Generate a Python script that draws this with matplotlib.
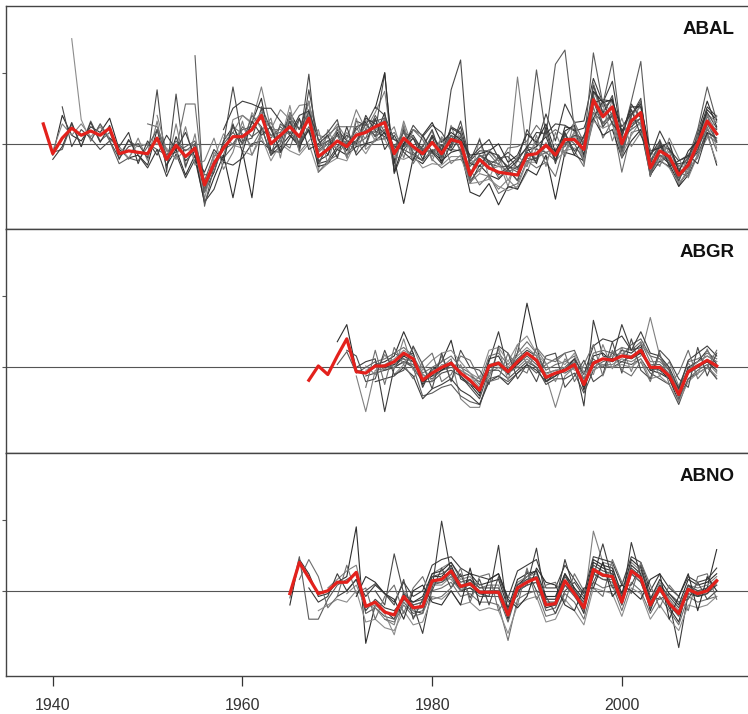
import matplotlib
matplotlib.use("Agg")
import matplotlib.pyplot as plt
import numpy as np

n = np.nan

# ---------- ABAL : 1939-2010 ----------
years_abal = list(range(1939, 2011))
mean_abal = [
    1.14, 0.93, 1.04, 1.11, 1.06, 1.09, 1.06, 1.11, 0.93, 0.95,
    0.94, 0.93, 1.04, 0.89, 0.99, 0.91, 0.97, 0.71, 0.86, 0.97,
    1.05, 1.05, 1.10, 1.20, 1.00, 1.06, 1.12, 1.05, 1.18, 0.91,
    0.96, 1.02, 0.98, 1.06, 1.08, 1.12, 1.15, 0.93, 1.04, 0.98,
    0.93, 1.01, 0.93, 1.03, 1.01, 0.78, 0.89, 0.83, 0.80, 0.79,
    0.78, 0.92, 0.93, 0.99, 0.92, 1.03, 1.03, 0.96, 1.31, 1.19,
    1.26, 1.00, 1.16, 1.22, 0.83, 0.95, 0.91, 0.78, 0.85, 1.00,
    1.16, 1.07]
abal_1 = [
    n, 0.92, 1.20, 1.06, 1.02, 1.12, 1.08, 1.18, 0.96, 0.90,
    0.92, 0.85, 1.10, 0.84, 1.05, 0.88, 0.95, 0.66, 0.80, 1.02,
    1.12, 1.00, 1.15, 1.32, 0.95, 1.00, 1.22, 1.10, 1.30, 0.88,
    0.92, 1.08, 0.95, 1.12, 1.15, 1.05, 1.22, 0.86, 1.10, 0.92,
    0.88, 1.05, 0.86, 1.12, 1.08, 0.72, 0.85, 0.78, 0.75, 0.82,
    0.74, 0.95, 0.98, 1.05, 0.88, 1.12, 1.10, 0.90, 1.42, 1.22,
    1.32, 0.95, 1.20, 1.30, 0.78, 0.92, 0.86, 0.72, 0.80, 1.08,
    1.30, 1.12]
abal_2 = [
    n, 0.94, 0.96, 1.14, 0.98, 1.16, 1.02, 1.08, 0.92, 1.02,
    0.98, 1.00, 0.96, 0.92, 0.94, 0.98, 1.02, 0.74, 0.92, 0.90,
    0.98, 1.12, 1.05, 1.10, 1.04, 1.12, 1.06, 1.00, 1.10, 0.95,
    1.02, 0.96, 1.02, 1.00, 1.04, 1.20, 1.08, 0.98, 0.98, 1.04,
    0.96, 0.94, 0.98, 0.96, 0.95, 0.84, 0.92, 0.88, 0.86, 0.80,
    0.84, 0.88, 0.90, 0.94, 0.96, 0.98, 1.08, 1.00, 1.22, 1.15,
    1.20, 1.04, 1.10, 1.15, 0.88, 0.98, 0.96, 0.84, 0.90, 0.98,
    1.10, 1.02]
abal_3 = [
    n,
    0.95, 1.14, 1.06, 1.14, 1.05, 1.12, 1.03, 0.98, 0.89, 1.04,
    0.88, 1.16, 0.83, 1.14, 0.83, 1.07, 0.66, 0.94, 0.87, 1.17,
    1.20, 1.15, 1.40, 1.10, 1.24, 1.17, 1.27, 1.28, 1.06, 1.04,
    1.14, 1.03, 1.24, 1.10, 1.22, 1.37, 0.88, 1.16, 0.96, 0.98,
    1.09, 0.88, 1.13, 0.93, 0.73, 0.79, 0.77, 0.68, 0.75, 0.68,
    0.80, 0.97, 0.89, 0.97, 0.95, 1.05, 1.04, 1.21, 1.24, 1.18,
    1.10, 1.10, 1.30, 0.88, 0.87, 0.97, 0.82, 0.80, 1.10, 1.21,
    1.15]
abal_4 = [
    n,
    0.89, 0.98, 1.15, 0.98, 1.15, 1.01, 1.13, 0.89, 1.03, 0.92,
    0.83, 0.96, 0.77, 0.93, 0.76, 0.89, 0.59, 0.68, 0.87, 0.85,
    0.90, 1.00, 1.02, 0.95, 0.94, 1.16, 0.95, 1.24, 0.86, 0.88,
    0.98, 1.06, 1.00, 1.20, 1.09, 1.05, 1.03, 1.00, 1.06, 0.95,
    0.95, 0.99, 0.95, 1.05, 0.88, 0.95, 0.95, 0.88, 0.94, 0.88,
    1.10, 0.99, 1.21, 1.02, 1.28, 1.15, 1.16, 1.46, 1.29, 1.44,
    1.05, 1.28, 1.18, 0.93, 0.99, 0.85, 0.86, 0.87, 0.94, 1.20,
    1.01]
abal_5 = [
    n,
    n, n, 1.74, 1.17, 1.02, 1.14, 1.04, 0.98, 0.90, 1.00,
    0.99, 1.00, 0.97, 0.89, 0.96, 0.95, 0.61, 0.90, 1.07, 0.99,
    0.97, 1.22, 1.10, 1.06, 1.01, 1.27, 0.97, 1.30, 0.81, 1.10,
    0.96, 1.08, 0.98, 1.14, 1.02, 1.19, 0.81, 1.14, 0.90, 0.99,
    0.91, 1.05, 0.97, 1.09, 0.74, 1.04, 0.75, 0.92, 0.74, 0.88,
    0.84, 1.03, 0.93, 1.00, 0.91, 1.09, 0.86, 1.43, 1.11, 1.31,
    0.94, 1.24, 1.12, 0.87, 0.89, 1.01, 0.73, 0.93, 0.92, 1.22,
    0.97]
abal_6 = [
    n, n, 1.26, 0.98, 1.10, 1.04, 0.96, 1.02, 0.90, 0.98,
    1.00, 0.90, 1.38, 0.80, 1.35, 0.84, 1.00, 0.68, 0.84, 1.00,
    1.40, 1.02, 1.04, 1.25, 0.92, 1.04, 1.16, 1.00, 1.49, 0.86,
    0.98, 1.06, 1.00, 1.02, 1.10, 1.08, 1.50, 0.79, 0.96, 0.92,
    0.98, 1.10, 0.90, 1.38, 1.59, 0.76, 0.92, 0.88, 0.78, 0.84,
    0.82, 0.90, 0.88, 1.00, 0.95, 1.00, 1.06, 1.04, 1.30, 1.12,
    1.20, 1.10, 1.12, 1.18, 0.86, 1.00, 0.90, 0.80, 0.84, 0.96,
    1.14, 1.10]
abal_7 = [
    n,
    n, n, n, n, n, n, n, n, n, n,
    1.14, 1.12, 0.95, 0.96, 1.28, 1.28, 0.66, 0.88, 0.92, 1.12,
    1.07, 0.98, 1.10, 1.15, 1.02, 0.97, 1.17, 1.08, 0.96, 1.06,
    1.12, 1.12, 1.12, 0.98, 1.17, 1.03, 1.08, 0.98, 1.10, 1.03,
    0.89, 0.83, 0.88, 0.89, 0.82, 0.71, 0.78, 0.65, 0.69, 0.72,
    0.88, 0.83, 0.87, 0.77, 1.01, 0.95, 0.84, 1.26, 1.04, 1.16,
    0.80, 1.08, 1.10, 0.85, 0.85, 0.95, 0.70, 0.83, 0.90, 1.12,
    0.95]
abal_8 = [
    n, n, n, n, n, n, n, n, n, n,
    n, n, n, 0.85, 0.96, 0.78, 0.92, 0.58, 0.76, 0.92,
    0.62, 0.95, 0.62, 1.12, 0.92, 0.98, 1.06, 0.98, 1.10, 0.84,
    0.86, 0.96, 0.92, 0.98, 1.00, 1.02, 1.08, 0.90, 0.58, 0.90,
    0.86, 0.95, 0.88, 0.94, 0.96, 0.66, 0.63, 0.72, 0.57, 0.70,
    0.68, 0.82, 0.78, 0.92, 0.61, 0.94, 0.92, 0.88, 1.18, 1.06,
    1.10, 0.90, 1.02, 1.10, 0.78, 0.88, 0.84, 0.70, 0.78, 0.92,
    1.08, 0.85]
abal_9 = [
    n, n, n, n, n, n, n, n, n, n,
    n, n, n, n, n, n, 1.62, 0.56, 0.84, 0.96,
    1.00, 1.10, 1.12, 1.18, 1.06, 1.08, 1.18, 1.10, 1.22, 0.94,
    1.00, 1.06, 1.00, 1.10, 1.16, 1.16, 1.18, 0.96, 1.08, 1.04,
    0.94, 1.06, 0.96, 1.06, 1.02, 0.78, 0.92, 0.86, 0.84, 0.84,
    0.80, 0.96, 1.52, 1.06, 1.56, 1.66, 1.10, 1.00, 1.64, 1.28,
    1.58, 1.04, 1.30, 1.58, 0.88, 1.00, 0.96, 0.82, 0.90, 1.10,
    1.40, 1.16]
abal_10 = [
    n, n, n, n, n, n, n, n, n, n,
    n, n, n, n, n, n, n, n, n, 1.04,
    1.08, 1.20, 1.14, 1.22, 1.10, 1.10, 1.08, 1.06, 1.20, 0.94,
    1.00, 1.10, 0.98, 1.08, 1.04, 1.10, 1.12, 0.90, 1.02, 0.96,
    0.92, 1.00, 0.96, 1.04, 1.00, 0.80, 0.88, 0.82, 0.84, 0.82,
    1.47, 0.94, 0.90, 0.98, 0.94, 1.04, 1.02, 1.00, 1.36, 1.26,
    1.30, 1.00, 1.20, 1.26, 0.80, 0.92, 0.90, 0.76, 0.84, 1.02,
    1.20, 1.08]
abal_11 = [
    n,
    n, n, n, n, n, n, n, n, n, n,
    n, n, n, n, n, n, n, n, 1.10, 1.25,
    1.30, 1.28, 1.25, 1.25, 1.16, 1.07, 1.20, 1.23, 1.03, 0.92,
    1.10, 1.02, 1.00, 1.18, 1.14, 1.07, 0.98, 0.96, 1.04, 0.89,
    1.06, 0.95, 1.11, 1.07, 0.90, 0.97, 1.03, 0.90, 0.84, 0.90,
    0.97, 1.08, 1.07, 1.14, 1.13, 1.09, 1.11, 1.29, 1.31, 1.30,
    1.12, 1.21, 1.28, 0.91, 1.09, 0.96, 0.88, 0.91, 1.05, 1.26,
    1.19]
abal_12 = [
    n,
    n, n, n, n, n, n, n, n, n, n,
    n, n, n, n, n, n, n, n, n, n,
    0.95, 0.92, 1.05, 0.88, 1.00, 0.95, 0.92, 1.00, 0.80, 0.86,
    0.90, 0.88, 1.02, 0.93, 1.04, 1.03, 0.91, 0.89, 0.92, 0.83,
    0.86, 0.85, 0.91, 0.91, 0.72, 0.73, 0.75, 0.70, 0.67, 0.70,
    0.87, 0.87, 1.01, 0.88, 0.95, 0.97, 0.92, 1.16, 1.11, 1.14,
    0.92, 1.06, 1.16, 0.79, 0.89, 0.83, 0.72, 0.81, 0.92, 1.06,
    0.87]
abal_13 = [
    n,
    n, n, n, n, n, n, n, n, n, n,
    n, n, n, n, n, n, n, n, n, n,
    n, n, 1.26, 1.10, 0.95, 1.20, 0.96, 1.38, 1.02, 1.08,
    1.17, 0.90, 1.16, 1.13, 1.26, 1.20, 1.03, 0.98, 1.13, 1.05,
    1.13, 1.08, 0.97, 1.16, 0.88, 1.03, 0.85, 0.90, 0.91, 0.83,
    0.94, 0.89, 1.09, 0.86, 1.07, 0.95, 1.01, 1.41, 1.21, 1.34,
    0.96, 1.20, 1.32, 0.77, 1.00, 0.89, 0.74, 0.89, 1.05, 1.22,
    1.11]
abal_14 = [
    n,
    n, n, n, n, n, n, n, n, n, n,
    n, n, n, n, n, n, n, n, n, n,
    n, n, n, n, n, n, n, n, 0.80, 0.88,
    0.92, 1.02, 0.94, 1.10, 1.06, 1.17, 0.83, 1.12, 0.86, 0.97,
    0.93, 1.03, 1.01, 1.06, 0.86, 0.91, 0.93, 0.85, 0.97, 0.98,
    1.02, 1.13, 1.05, 1.10, 1.05, 1.15, 1.01, 1.36, 1.31, 1.20,
    0.90, 1.18, 1.14, 0.77, 1.03, 0.87, 0.80, 0.77, 1.06, 1.06,
    1.01]
abal_15 = [
    n,
    n, n, n, n, n, n, n, n, n, n,
    n, n, n, n, n, n, n, n, n, n,
    n, n, n, n, n, n, n, n, n, n,
    n, n, n, n, 1.25, 1.50, 0.80, 1.00, 1.10, 1.06,
    1.15, 1.01, 1.08, 1.03, 0.92, 0.93, 0.95, 1.00, 0.87, 0.92,
    1.07, 1.01, 1.14, 0.94, 1.09, 1.13, 0.92, 1.37, 1.29, 1.31,
    1.08, 1.26, 1.26, 0.95, 0.97, 1.01, 0.80, 0.95, 1.02, 1.24,
    1.17]
abal_16 = [
    n,
    n, n, n, n, 1.02, 1.14, 1.02, 0.86, 0.90, 0.88,
    0.98, 1.10, 0.92, 1.02, 0.95, 1.00, 0.78, 0.80, 1.00, 1.08,
    1.00, 1.20, 1.12, 0.92, 1.14, 1.08, 1.00, 1.12, 0.98, 1.02,
    1.06, 0.92, 1.02, 1.14, 1.05, 1.10, 0.98, 1.08, 0.94, 0.88,
    0.96, 0.90, 1.06, 0.96, 0.74, 0.82, 0.88, 0.76, 0.82, 0.74,
    0.98, 0.96, 0.94, 0.88, 1.06, 1.00, 0.88, 1.34, 1.14, 1.22,
    0.94, 1.14, 1.18, 0.80, 0.92, 0.88, 0.76, 0.84, 0.98, 1.14,
    1.02]
abal_17 = [
    n,
    n, n, n, n, n, n, n, n, n, n,
    n, 1.20, 0.95, 0.90, 1.12, 0.85, 0.88, 1.04, 0.82, 0.94,
    1.16, 0.92, 1.08, 1.18, 0.90, 1.22, 0.94, 1.02, 1.10, 0.86,
    1.12, 0.90, 1.18, 0.96, 1.02, 1.04, 1.12, 0.90, 1.10, 1.06,
    0.88, 1.04, 0.86, 0.92, 0.90, 0.80, 0.96, 0.88, 0.70, 0.92,
    0.84, 1.06, 0.84, 1.08, 0.92, 1.16, 0.88, 1.16, 1.28, 1.02,
    1.18, 0.98, 1.08, 0.96, 0.84, 1.04, 0.90, 0.76, 0.92, 1.04,
    1.20]
abal_18 = [
    n,
    n, n, n, n, n, n, 1.04, 0.98, 1.08, 0.86,
    1.02, 0.92, 1.06, 0.96, 1.08, 0.90, 0.80, 0.96, 0.88, 1.14,
    0.94, 1.16, 1.06, 1.12, 0.94, 1.04, 1.18, 0.96, 1.00, 1.06,
    0.90, 1.12, 0.92, 1.00, 1.18, 0.96, 1.06, 0.94, 0.88, 1.06,
    0.94, 0.86, 1.00, 1.12, 0.86, 0.84, 0.94, 0.92, 0.82, 0.88,
    0.98, 0.86, 1.12, 0.88, 1.08, 0.92, 1.06, 1.18, 1.30, 1.14,
    1.06, 1.24, 1.06, 0.92, 1.02, 0.84, 0.88, 0.92, 0.86, 1.08,
    1.04]
series_abal = [abal_1, abal_2, abal_3, abal_4, abal_5, abal_6, abal_7, abal_8, abal_9,
               abal_10, abal_11, abal_12, abal_13, abal_14, abal_15, abal_16, abal_17, abal_18]

# ---------- ABGR : 1967-2010 ----------
years_abgr = list(range(1967, 2011))
mean_abgr = [
    0.91, 1.01, 0.95, 1.08, 1.20, 0.97, 0.96, 1.01, 1.01, 1.04,
    1.10, 1.06, 0.91, 0.96, 1.00, 1.03, 0.96, 0.91, 0.84, 1.01,
    1.03, 0.97, 1.04, 1.10, 1.05, 0.93, 0.96, 0.98, 1.02, 0.88,
    1.03, 1.06, 1.05, 1.08, 1.07, 1.12, 1.00, 1.00, 0.94, 0.81,
    0.97, 1.01, 1.05, 1.01]
abgr_1 = [
    n, n, n, 1.18, 1.30, 0.98, 0.96, 1.02, 1.04, 1.08,
    1.25, 1.10, 0.88, 0.98, 1.04, 1.19, 0.92, 0.88, 0.80, 1.06,
    1.08, 0.95, 1.10, 1.45, 1.15, 0.90, 0.94, 1.00, 1.06, 0.84,
    1.08, 1.10, 1.04, 1.12, 1.10, 1.16, 0.98, 0.96, 0.92, 0.76,
    1.00, 1.04, 1.12, 1.02]
abgr_2 = [
    n, n, n, 1.02, 1.11, 0.96, 1.00, 1.04, 0.98, 1.00,
    1.04, 1.02, 0.95, 0.92, 0.98, 1.00, 0.98, 0.94, 0.90, 1.00,
    1.00, 0.98, 1.02, 1.08, 1.02, 0.96, 0.98, 0.96, 1.00, 0.92,
    1.00, 1.04, 1.06, 1.04, 1.08, 1.10, 1.02, 1.02, 0.96, 0.86,
    0.98, 1.02, 1.04, 1.00]
abgr_3 = [
    n, n, n, n, n, 0.94, 0.69, 0.98, 0.99, 1.02,
    1.06, 1.04, 0.92, 0.98, 1.00, 1.06, 0.78, 0.72, 0.72, 0.96,
    1.00, 0.96, 1.00, 1.06, 1.00, 0.94, 0.72, 0.94, 1.00, 0.90,
    1.04, 1.02, 1.02, 1.06, 1.04, 1.08, 1.35, 1.08, 0.98, 0.80,
    0.96, 1.00, 1.04, 0.96]
abgr_4 = [
    n, n, n, n, n, 1.00, 1.04, 1.06, 0.69, 1.00,
    1.08, 1.10, 0.86, 1.00, 0.98, 1.04, 0.94, 0.88, 0.84, 1.04,
    1.25, 0.98, 1.06, 1.12, 1.08, 0.90, 0.96, 0.98, 1.04, 0.73,
    1.33, 1.08, 1.06, 1.30, 1.12, 1.14, 0.98, 1.00, 0.94, 0.82,
    1.00, 1.04, 1.08, 1.04]
abgr_5 = [
    n, n, n, n, n, n, 0.98, 1.00, 1.02, 1.06,
    1.12, 1.08, 0.94, 0.94, 1.02, 1.02, 0.98, 0.94, 0.86, 1.02,
    1.04, 1.00, 1.08, 1.14, 1.08, 0.95, 0.98, 1.00, 1.04, 0.90,
    1.04, 1.06, 1.08, 1.10, 1.08, 1.12, 1.02, 1.00, 0.96, 0.84,
    0.98, 1.04, 1.08, 1.04]
abgr_6 = [
    n, n, n, n, n, n, 0.94, 0.96, 0.98, 1.00,
    1.04, 1.00, 0.90, 0.90, 0.96, 0.98, 0.94, 0.86, 0.78, 0.98,
    0.98, 0.92, 0.98, 1.04, 1.00, 0.88, 0.92, 0.92, 0.96, 0.82,
    0.98, 1.02, 1.00, 1.04, 1.02, 1.06, 0.96, 0.92, 0.88, 0.74,
    0.92, 0.96, 1.00, 0.92]
abgr_7 = [
    n, n, n, n, n, n, n, 1.04, 1.06, 1.10,
    1.14, 1.08, 0.96, 1.00, 1.04, 1.08, 1.00, 0.96, 0.88, 1.08,
    1.10, 1.02, 1.10, 1.18, 1.10, 0.98, 1.02, 1.04, 1.08, 0.92,
    1.10, 1.12, 1.10, 1.14, 1.12, 1.18, 1.04, 1.04, 0.98, 0.84,
    1.04, 1.06, 1.10, 1.06]
abgr_8 = [
    n, n, n, n, n, n, n, n, 1.00, 1.02,
    1.08, 1.04, 0.90, 0.94, 0.98, 1.02, 0.96, 0.90, 0.82, 1.00,
    1.02, 0.96, 1.02, 1.10, 1.04, 0.92, 0.96, 0.98, 1.02, 0.86,
    1.02, 1.06, 1.04, 1.08, 1.06, 1.10, 1.00, 0.98, 0.92, 0.80,
    0.96, 1.00, 1.04, 0.98]
abgr_9 = [
    n, n, n, n, n, n, n, n, n, 1.10,
    1.06, 1.00, 0.80, 0.82, 0.86, 0.88, 0.80, 0.76, 0.74, 0.92,
    0.94, 0.90, 0.96, 1.02, 0.96, 1.02, 1.06, 1.10, 1.12, 0.96,
    1.06, 1.00, 1.10, 1.08, 1.16, 1.20, 1.08, 1.06, 0.98, 0.78,
    0.92, 0.98, 1.02, 0.92]
abgr_10 = [
    n, n, n, n, n, n, 1.01, 0.95, 1.09, 0.99,
    1.20, 0.98, 1.01, 0.90, 1.08, 0.91, 1.02, 0.87, 0.94, 0.93,
    1.13, 0.91, 1.16, 1.02, 1.13, 1.03, 0.90, 1.06, 0.98, 1.00,
    0.95, 1.16, 0.99, 1.14, 0.97, 1.17, 1.08, 0.94, 1.04, 0.87,
    1.03, 0.95, 1.13, 0.97]
abgr_11 = [
    n, n, n, n, n, n, n, 0.90, 0.92, 0.94,
    1.00, 0.94, 0.78, 0.85, 0.88, 0.92, 0.84, 0.80, 0.74, 0.90,
    0.94, 0.88, 0.96, 1.02, 0.98, 0.90, 0.94, 0.98, 1.06, 0.95,
    1.15, 1.20, 1.18, 1.22, 1.12, 1.25, 1.10, 1.08, 1.00, 0.85,
    1.05, 1.10, 1.15, 1.08]
abgr_12 = [
    n, n, n, n, n, n, n, n, n, 0.95,
    1.02, 1.14, 0.98, 1.05, 1.10, 1.12, 1.04, 0.96, 0.92, 1.12,
    1.14, 1.04, 1.16, 1.22, 1.10, 1.02, 1.06, 1.02, 1.10, 0.96,
    0.98, 1.02, 1.00, 1.02, 1.00, 1.06, 0.92, 0.94, 0.88, 0.76,
    0.90, 0.96, 1.00, 0.94]
abgr_13 = [
    n, n, n, n, 1.12, 1.08, 0.90, 0.92, 1.12, 0.95,
    0.98, 1.15, 1.02, 0.85, 1.10, 0.90, 1.12, 1.00, 0.98, 0.88,
    1.15, 1.10, 0.92, 1.02, 0.90, 1.08, 1.10, 0.86, 0.94, 1.05,
    0.90, 0.95, 1.18, 0.96, 1.20, 0.98, 0.92, 1.12, 1.05, 0.92,
    0.86, 1.14, 0.94, 1.10]
abgr_14 = [
    n, n, n, n, n, n, 0.86, 1.12, 0.88, 1.14,
    1.02, 0.92, 1.04, 1.10, 0.90, 0.95, 1.08, 1.05, 0.92, 0.90,
    0.92, 1.10, 1.00, 0.96, 1.14, 1.06, 1.04, 1.10, 0.90, 1.02,
    1.16, 0.94, 1.12, 0.98, 0.94, 1.04, 0.90, 1.10, 0.88, 0.96,
    1.12, 0.92, 1.00, 1.12]
series_abgr = [abgr_1, abgr_2, abgr_3, abgr_4, abgr_5, abgr_6, abgr_7,
               abgr_8, abgr_9, abgr_10, abgr_11, abgr_12, abgr_13, abgr_14]

# ---------- ABNO : 1965-2010 ----------
years_abno = list(range(1965, 2011))
mean_abno = [
    0.98, 1.20, 1.09, 0.98, 1.00, 1.06, 1.06, 1.13, 0.89, 0.92,
    0.85, 0.83, 0.96, 0.88, 0.89, 1.07, 1.08, 1.14, 1.03, 1.05,
    0.99, 0.99, 0.99, 0.83, 1.02, 1.06, 1.09, 0.90, 0.91, 1.07,
    0.98, 0.88, 1.15, 1.11, 1.10, 0.92, 1.14, 1.09, 0.90, 1.02,
    0.91, 0.84, 1.01, 0.98, 1.00, 1.07]
abno_1 = [
    0.90, 1.22, 1.12, 0.96, 0.98, 1.06, 1.10, 1.45, 0.63, 0.90,
    0.86, 0.80, 0.98, 0.86, 0.84, 1.10, 1.10, 1.18, 1.02, 1.08,
    0.98, 1.00, 1.00, 0.80, 1.04, 1.10, 1.14, 0.88, 0.90, 1.12,
    0.98, 0.84, 1.20, 1.16, 1.14, 0.90, 1.18, 1.12, 0.86, 1.04,
    0.88, 0.78, 1.04, 0.96, 1.02, 1.29]
abno_2 = [
    0.95, 1.24, 0.80, 0.80, 0.94, 1.04, 1.08, 1.12, 0.84, 0.88,
    0.82, 0.80, 0.92, 0.84, 0.86, 1.04, 1.06, 1.10, 1.00, 1.02,
    0.96, 0.96, 0.96, 0.78, 1.00, 1.04, 1.06, 0.86, 0.88, 1.04,
    0.96, 0.86, 1.12, 1.08, 1.06, 0.90, 1.12, 1.06, 0.88, 1.00,
    0.90, 0.82, 1.00, 0.96, 0.98, 1.04]
abno_3 = [
    n, n, n, n, 1.02, 1.08, 1.14, 1.18, 0.90, 0.88,
    0.80, 0.76, 1.00, 0.90, 0.92, 1.12, 1.16, 1.20, 1.08, 1.10,
    1.02, 1.04, 1.04, 0.85, 1.06, 1.10, 1.12, 0.94, 0.94, 1.12,
    1.02, 0.90, 1.42, 1.20, 1.18, 0.94, 1.20, 1.14, 0.94, 1.06,
    0.94, 0.86, 1.04, 1.02, 1.04, 1.10]
abno_4 = [
    n, n, n, n, n, 0.96, 1.00, 1.08, 0.86, 0.94,
    0.88, 0.86, 0.94, 0.90, 0.70, 1.02, 1.49, 1.12, 1.00, 1.02,
    0.98, 0.96, 1.32, 0.82, 1.00, 1.04, 1.30, 0.92, 0.92, 1.22,
    1.00, 0.90, 1.10, 1.33, 1.08, 0.92, 1.34, 1.10, 0.90, 1.00,
    0.92, 0.60, 0.98, 0.96, 0.98, 1.06]
abno_5 = [
    n, n, n, n, n, n, 0.98, 1.04, 0.88, 0.90,
    0.84, 0.69, 0.94, 0.86, 0.88, 1.04, 1.04, 1.10, 1.04, 1.06,
    1.00, 1.00, 0.98, 0.84, 1.02, 1.08, 1.08, 0.92, 0.92, 1.06,
    1.00, 0.90, 1.16, 1.12, 1.10, 0.94, 1.14, 1.08, 0.92, 1.02,
    0.94, 0.84, 1.02, 1.00, 1.00, 1.08]
abno_6 = [
    n, n, n, n, n, n, n, n, n, 1.00,
    0.90, 1.26, 0.98, 0.92, 0.94, 1.10, 1.12, 1.16, 1.06, 1.08,
    1.02, 1.02, 1.02, 0.86, 1.04, 1.08, 1.10, 0.94, 0.94, 1.10,
    1.00, 0.92, 1.18, 1.14, 1.12, 0.96, 1.16, 1.10, 0.92, 1.04,
    0.96, 0.88, 1.04, 1.00, 1.02, 1.08]
abno_7 = [
    n, n, n, n, n, n, n, n, n, n,
    0.80, 0.78, 0.90, 0.82, 0.84, 1.00, 1.02, 1.06, 0.96, 0.98,
    0.92, 0.92, 0.90, 0.65, 0.94, 0.98, 1.00, 0.82, 0.84, 0.98,
    0.92, 0.80, 1.06, 1.02, 1.04, 0.86, 1.06, 1.00, 0.84, 0.96,
    0.86, 0.76, 0.96, 0.92, 0.94, 0.96]
abno_8 = [
    n, n, n, n, n, n, n, n, n, n,
    n, 0.84, 0.94, 0.92, 0.96, 1.12, 1.14, 1.20, 1.10, 1.12,
    1.04, 1.06, 1.08, 0.88, 1.08, 1.12, 1.14, 0.96, 0.96, 1.12,
    1.02, 0.94, 1.22, 1.18, 1.16, 0.98, 1.22, 1.16, 0.94, 1.08,
    0.98, 0.90, 1.08, 1.04, 1.06, 1.12]
abno_9 = [
    n, n, n, n, n, n, n, n, n, n,
    n, n, n, 0.90, 0.92, 1.06, 1.06, 1.12, 1.02, 1.04,
    0.98, 0.98, 0.98, 0.82, 1.00, 1.04, 1.06, 0.90, 0.90, 1.04,
    0.98, 0.88, 1.12, 1.08, 1.08, 0.92, 1.12, 1.06, 0.90, 1.02,
    0.90, 0.84, 1.00, 0.98, 1.00, 1.04]
abno_10 = [
    n, n, n, n, n, n, n, n, n, n,
    n, n, n, n, n, 1.04, 1.10, 1.08, 1.00, 1.06,
    1.00, 0.98, 1.00, 0.84, 1.02, 1.06, 1.10, 0.90, 0.92, 1.06,
    0.98, 0.88, 1.14, 1.10, 1.10, 0.92, 1.14, 1.08, 0.90, 1.00,
    0.92, 0.84, 1.00, 0.98, 1.00, 1.06]
abno_11 = [
    n, n, 1.02, 0.92, 0.96, 1.12, 1.00, 1.08, 0.96, 1.04,
    0.98, 0.92, 1.06, 0.96, 1.00, 1.18, 1.22, 1.24, 1.16, 1.12,
    1.10, 1.08, 1.12, 0.95, 1.14, 1.18, 1.22, 1.02, 1.02, 1.18,
    1.08, 0.98, 1.24, 1.22, 1.20, 1.04, 1.24, 1.20, 1.00, 1.12,
    1.02, 0.96, 1.10, 1.06, 1.08, 1.16]
abno_12 = [
    n, n, n, 0.86, 0.90, 0.94, 0.92, 1.00, 0.78, 0.80,
    0.74, 0.72, 0.86, 0.76, 0.78, 0.96, 0.94, 1.00, 0.90, 0.92,
    0.86, 0.88, 0.86, 0.70, 0.90, 0.94, 0.96, 0.78, 0.80, 0.94,
    0.86, 0.76, 1.02, 1.00, 0.98, 0.82, 1.02, 0.98, 0.80, 0.90,
    0.80, 0.72, 0.90, 0.88, 0.90, 0.96]
abno_13 = [
    n, n, n, n, n, n, n, n, 1.00, 1.05,
    0.98, 0.90, 1.08, 0.80, 0.94, 1.00, 1.16, 1.02, 1.12, 0.95,
    1.08, 0.90, 1.10, 0.92, 0.96, 1.14, 1.00, 0.96, 0.84, 1.00,
    1.06, 0.96, 1.06, 1.20, 1.02, 1.04, 1.04, 1.18, 0.96, 0.94,
    0.98, 0.92, 0.94, 1.06, 0.94, 1.00]
abno_14 = [
    n, 1.08, 1.22, 1.10, 0.88, 0.96, 1.18, 0.98, 1.02, 0.80,
    0.96, 1.04, 0.84, 1.02, 1.10, 0.94, 0.96, 1.02, 1.16, 0.92,
    1.10, 1.12, 0.86, 0.96, 0.90, 1.16, 0.94, 1.04, 1.06, 0.92,
    1.12, 1.00, 1.02, 0.96, 1.22, 1.06, 0.98, 1.20, 1.04, 0.88,
    1.04, 0.96, 0.86, 1.10, 1.12, 0.94]
abno_15 = [
    n, n, n, n, n, n, n, 0.96, 1.10, 1.06,
    0.98, 0.94, 0.80, 1.00, 1.04, 0.92, 0.90, 1.00, 0.90, 1.16,
    0.90, 1.08, 1.12, 0.94, 0.88, 0.96, 1.16, 1.06, 1.04, 0.90,
    0.86, 1.02, 1.02, 1.20, 0.96, 1.04, 1.00, 0.94, 1.08, 1.12,
    0.80, 0.96, 1.12, 0.86, 1.10, 1.00]
series_abno = [abno_1, abno_2, abno_3, abno_4, abno_5, abno_6, abno_7, abno_8,
               abno_9, abno_10, abno_11, abno_12, abno_13, abno_14, abno_15]

panels = [
    ("ABAL", years_abal, series_abal, mean_abal),
    ("ABGR", years_abgr, series_abgr, mean_abgr),
    ("ABNO", years_abno, series_abno, mean_abno),
]
grays = ["#2e2e2e", "#5c5c5c", "#808080", "#3c3c3c", "#8c8c8c", "#4a4a4a", "#6e6e6e"]

W, H = 748, 714
fig = plt.figure(figsize=(W / 100, H / 100), dpi=100)
plt.rcParams['font.family'] = ['Liberation Sans', 'DejaVu Sans']

# panel boxes in pixels (top, bottom)
boxes = [(6, 229), (229, 453), (453, 676)]
left_px = 6

for i, (name, yrs, series, mean) in enumerate(panels):
    top, bot = boxes[i]
    ax = fig.add_axes([left_px / W, 1 - bot / H, 1.01 - left_px / W, (bot - top) / H])
    for j, s in enumerate(series):
        ax.plot(yrs, s, color=grays[j % len(grays)], lw=0.8)
    ax.plot(yrs, mean, color="#e3211c", lw=2.3, zorder=5)
    ax.axhline(1.0, color="#555555", lw=0.8, zorder=1)

    ax.set_xlim(1935.07, 2014.09)
    ax.set_ylim(0.40, 1.97)
    ax.set_yticks([1.0, 1.5])
    ax.set_yticklabels([])
    ax.tick_params(axis='y', length=3, width=0.8, color="#555555")
    for sp in ax.spines.values():
        sp.set_color("#444444")
        sp.set_linewidth(1.0)

    if i < 2:
        ax.set_xticks([])
    else:
        ax.set_xticks([1940, 1960, 1980, 2000])
        ax.tick_params(axis='x', length=7, width=0.9, pad=9,
                       labelsize=11.5, labelcolor="#333333", color="#333333")

    ax.text(0.972, 0.895, name, transform=ax.transAxes, ha='right', va='center',
            fontsize=13.5, fontweight='bold', color="#111111")

fig.savefig("out.png", dpi=100)
